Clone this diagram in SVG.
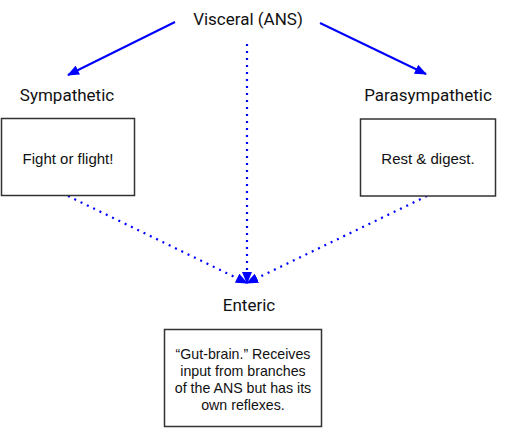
<svg xmlns="http://www.w3.org/2000/svg" width="510" height="436" viewBox="0 0 510 436">
<defs>
<marker id="ah" markerWidth="12" markerHeight="10" refX="11" refY="5" orient="auto" markerUnits="userSpaceOnUse">
<path d="M0,0 L12,5 L0,10 z" fill="#0000ff"/>
</marker>
</defs>
<style>
.lbl{font-family:Roboto,"Liberation Sans",sans-serif;font-size:17px;fill:#111;text-anchor:middle}
.txt{font-family:"Liberation Sans",Arial,sans-serif;font-size:14.2px;fill:#111;text-anchor:middle}
.big{font-size:15px}
.box{fill:#fff;stroke:#333;stroke-width:1.5}
.solid{stroke:#0000ff;stroke-width:2;fill:none}
.dot{stroke:#0000ff;stroke-width:2.2;fill:none;stroke-dasharray:2 5}
</style>
<g id="connectors">
<line class="solid" x1="175" y1="22" x2="68" y2="75" marker-end="url(#ah)"/>
<line class="solid" x1="320" y1="23" x2="426" y2="74" marker-end="url(#ah)"/>
<line class="dot" x1="247" y1="44" x2="247" y2="283" marker-end="url(#ah)"/>
<line class="dot" x1="68" y1="196" x2="247" y2="283" marker-end="url(#ah)"/>
<line class="dot" x1="427" y1="196" x2="247" y2="283" marker-end="url(#ah)"/>
</g>
<g id="visceral">
<text class="lbl" x="248" y="25">Visceral (ANS)</text>
</g>
<g id="sympathetic">
<text class="lbl" x="67" y="101">Sympathetic</text>
<rect class="box" x="1.5" y="118.5" width="133" height="77"/>
<text class="txt big" x="68" y="164">Fight or flight!</text>
</g>
<g id="parasympathetic">
<text class="lbl" x="428" y="101">Parasympathetic</text>
<rect class="box" x="360.5" y="119" width="135" height="77"/>
<text class="txt big" x="428" y="164">Rest &amp; digest.</text>
</g>
<g id="enteric">
<text class="lbl" x="249" y="311">Enteric</text>
<rect class="box" x="164.5" y="329.5" width="157" height="97"/>
<text class="txt" x="243" y="359">“Gut-brain.” Receives</text>
<text class="txt" x="243" y="376">input from branches</text>
<text class="txt" x="243" y="393">of the ANS but has its</text>
<text class="txt" x="243" y="410">own reflexes.</text>
</g>
</svg>
